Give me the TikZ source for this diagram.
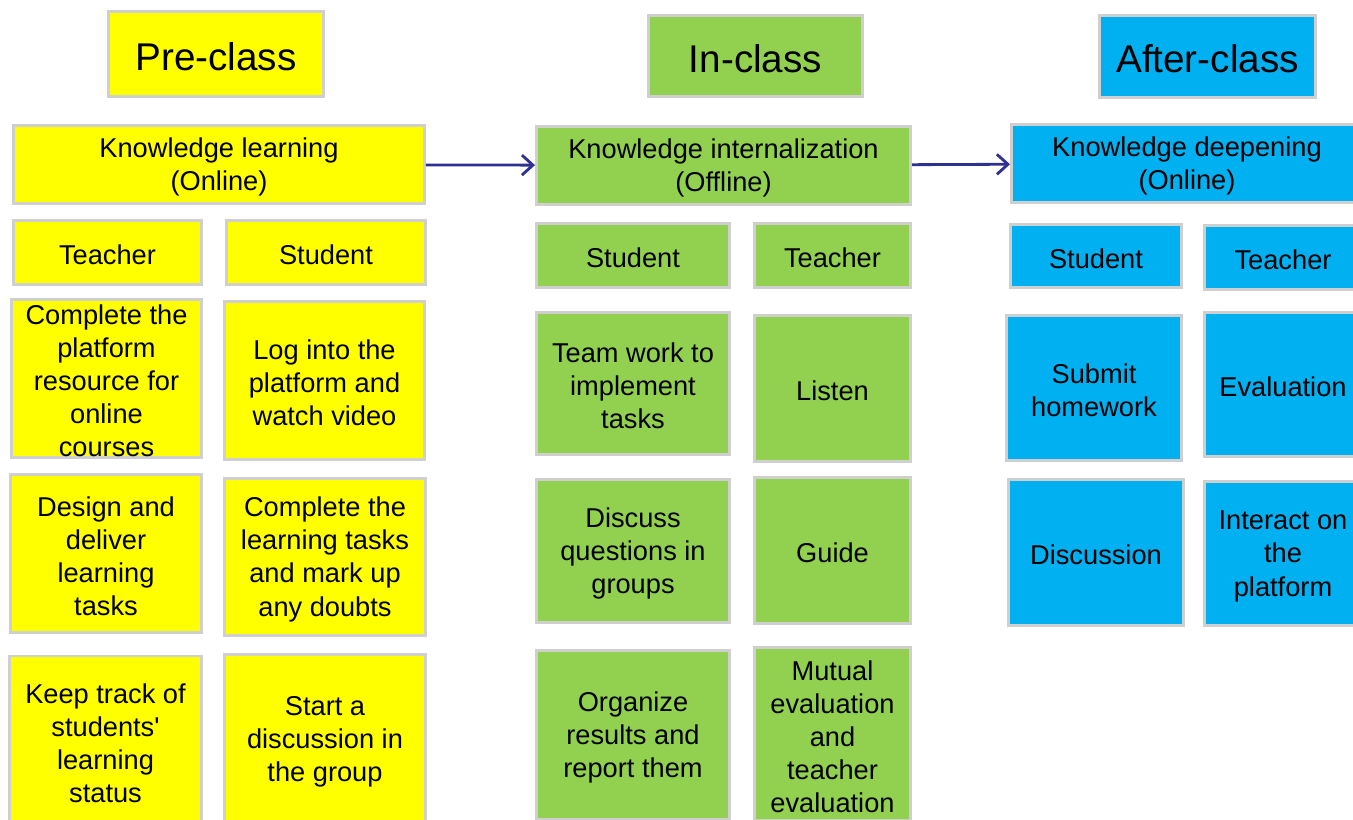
\documentclass[tikz,border=0pt]{standalone}
\usepackage{fontspec}
\setmainfont{Liberation Sans}
\usetikzlibrary{arrows.meta}
\definecolor{pre}{HTML}{FFFF00}
\definecolor{inc}{HTML}{92D050}
\definecolor{aft}{HTML}{00B0F0}
\definecolor{edge}{HTML}{CFCFCF}
\definecolor{flow}{HTML}{2E3192}
\newcommand{\up}{\rule{0pt}{14pt}}
\newcommand{\uphead}{\rule{0pt}{18.5pt}}
\tikzset{
  box/.style={draw=edge, line width=1.7pt, align=center, inner xsep=0pt, inner ysep=-3pt,
    font=\fontsize{15.5}{18.8}\selectfont},
  head/.style={box, font=\fontsize{22}{26}\selectfont},
  sz/.style 2 args={minimum width=#1*0.02cm, minimum height=#2*0.02cm},
  link/.style={draw=flow, line width=1.6pt, -{Straight Barb[length=2.2mm,width=4mm]}},
}

\begin{document}
\begin{tikzpicture}[x=0.02cm,y=-0.02cm]
  \useasboundingbox (0,0) rectangle (1353,820);
  \clip (0,0) rectangle (1353,820);
  % phase headers
  \node[head, fill=pre, sz={215}{85}] (pre) at (216,54) {\uphead Pre-class};
  \node[head, fill=inc, sz={214}{81}] (inc) at (755.5,56) {\uphead In-class};
  \node[head, fill=aft, sz={216}{82}] (aft) at (1207.5,56.5) {\uphead After-class};
  % stages
  \node[box, fill=pre, sz={411}{78}] (learn) at (219,164.5) {\up Knowledge learning\\(Online)};
  \node[box, fill=inc, sz={374}{78}] (intern) at (723.5,165.5) {\up Knowledge internalization\\(Offline)};
  \node[box, fill=aft, sz={351}{78}] (deepen) at (1187,163.5) {\up Knowledge deepening\\(Online)};
  \draw[link] (learn) -- (intern);
  \draw[link] (intern) -- (deepen);
  % roles and tasks
  \foreach \nm/\col/\cx/\cy/\w/\h/\txt in {
      pT/pre/107.5/252.5/188/64/{Teacher},
      pS/pre/326/252.5/199/64/{Student},
      pT1/pre/106.5/378.5/190/158/{Complete the\\platform\\resource for\\online\\courses},
      pS1/pre/324.5/380.5/200/158/{Log into the\\platform and\\watch video},
      pT2/pre/106/553.5/191/158/{Design and\\deliver\\learning\\tasks},
      pS2/pre/325/557/201/157/{Complete the\\learning tasks\\and mark up\\any doubts},
      pT3/pre/105.5/741/192/170/{Keep track of\\students\textquotesingle\\learning\\status},
      pS3/pre/325/739/201/169/{Start a\\discussion in\\the group},
      iS/inc/633/255.5/193/64/{Student},
      iT/inc/832.5/255.5/156/64/{Teacher},
      iS1/inc/633/383.5/193/142/{Team work to\\implement\\tasks},
      iT1/inc/832.5/388.5/156/146/{Listen},
      iS2/inc/633/551/193/143/{Discuss\\questions in\\groups},
      iT2/inc/832.5/550.5/156/146/{Guide},
      iS3/inc/633/735/193/169/{Organize\\results and\\report them},
      iT3/inc/832.5/734/156/173/{Mutual\\evaluation\\and\\teacher\\evaluation},
      aS/aft/1096/256/171/63/{Student},
      aT/aft/1283/257.5/157/64/{Teacher},
      aS1/aft/1094/388/175/145/{Submit\\homework},
      aT1/aft/1283/384.5/157/144/{Evaluation},
      aS2/aft/1096/552.5/175/146/{Discussion},
      aT2/aft/1283/553.5/157/144/{Interact on\\the\\platform}}
    \node[box, fill=\col, sz={\w}{\h}] (\nm) at (\cx,\cy) {\up\txt};
\end{tikzpicture}
\end{document}
